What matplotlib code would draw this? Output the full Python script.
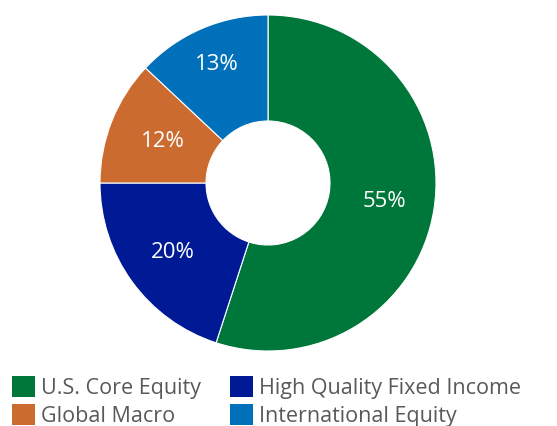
import matplotlib
matplotlib.use("Agg")
import matplotlib.pyplot as plt
from matplotlib.patches import Patch
import numpy as np

categories = ["U.S. Core Equity", "High Quality Fixed Income", "Global Macro", "International Equity"]
values = [55, 20, 12, 13]
colors = ["#00773A", "#001A96", "#CC6B30", "#0070BA"]
label_dist = [0.70, 0.70, 0.67, 0.77]

plt.rcParams['font.family'] = ['Open Sans', 'DejaVu Sans']

fig = plt.figure(figsize=(5.57, 4.26), dpi=100)
W, H = 557, 426
cx, cy, R = 268, 183, 168
ax = fig.add_axes([(cx - R) / W, (H - cy - R) / H, 2 * R / W, 2 * R / H])

inner = 62 / 168
wedges, texts = ax.pie(values, colors=colors, startangle=90, counterclock=False,
                       radius=1, wedgeprops=dict(width=1 - inner, edgecolor='white', linewidth=0.8),
                       labels=[f"{v}%" for v in values], labeldistance=(1 + inner) / 2,
                       textprops=dict(color='white', fontsize=16, ha='center', va='center'))
for w, t, d in zip(wedges, texts, label_dist):
    ang = np.deg2rad((w.theta1 + w.theta2) / 2)
    t.set_position((d * np.cos(ang), d * np.sin(ang)))
ax.set_xlim(-1, 1)
ax.set_ylim(-1, 1)
ax.set_aspect('equal')
ax.axis('off')

handles = [Patch(facecolor=c, edgecolor='none') for c in colors]
order = [0, 2, 1, 3]
leg = fig.legend([handles[i] for i in order], [categories[i] for i in order],
                 ncol=2, loc='upper left', bbox_to_anchor=(12 / W, (H - 376) / H),
                 frameon=False, fontsize=15.5, handlelength=1.05, handleheight=1.1,
                 handletextpad=0.3, columnspacing=1.35, labelspacing=0.25,
                 borderaxespad=0, borderpad=0)
for t in leg.get_texts():
    t.set_color('#595959')

fig.savefig("out.png", dpi=100, facecolor='white')
